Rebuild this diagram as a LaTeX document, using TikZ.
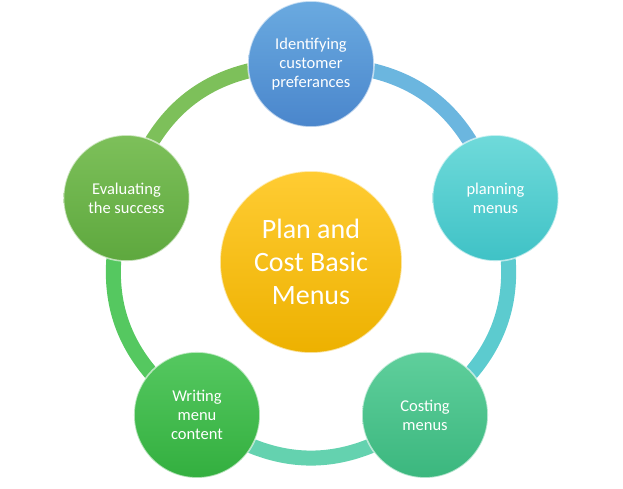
\documentclass[tikz,border=0pt]{standalone}
\usepackage{fontspec}
\setmainfont{Carlito}
\usetikzlibrary{backgrounds}
\definecolor{identtop}{HTML}{6AAAE0}
\definecolor{identbot}{HTML}{4A86CC}
\definecolor{plantop}{HTML}{6FDADA}
\definecolor{planbot}{HTML}{3FC2C6}
\definecolor{costtop}{HTML}{5FCF9C}
\definecolor{costbot}{HTML}{3BB77E}
\definecolor{writetop}{HTML}{55C860}
\definecolor{writebot}{HTML}{33AF3F}
\definecolor{evaltop}{HTML}{7DC05A}
\definecolor{evalbot}{HTML}{5EA83E}
\definecolor{coretop}{HTML}{FFCC33}
\definecolor{corebot}{HTML}{EDB100}

\begin{document}
\begin{tikzpicture}[x=1pt,y=1pt,
    stage/.style={circle,draw=white,draw opacity=.6,line width=1.6pt,minimum size=126pt,inner sep=0pt,
      align=center,text=white,font=\fontsize{16.5}{19}\selectfont},
    ring/.style={line width=15pt,bend left=36,looseness=1.1}]
  \useasboundingbox (-311,-230) rectangle (312,258);
  % steps round the ring
  \node[stage,top color=identtop,bottom color=identbot] (ident) at (90:194pt) {Identifying\\customer\\preferances};
  \node[stage,top color=plantop,bottom color=planbot] (plan) at (18:194pt) {planning\\menus};
  \node[stage,top color=costtop,bottom color=costbot] (cost) at (-54:194pt) {Costing\\menus};
  \node[stage,top color=writetop,bottom color=writebot] (write) at (-126:194pt) {Writing\\menu\\content};
  \node[stage,top color=evaltop,bottom color=evalbot] (eval) at (162:194pt) {Evaluating\\the success};
  % centre
  \node[stage,minimum size=182pt,top color=coretop,bottom color=corebot,
    font=\fontsize{28}{33}\selectfont] (core) at (0,-4) {Plan and\\Cost Basic\\Menus};
  \begin{pgfonlayer}{background}
    \draw[ring,color=identtop!75!plantop] (ident.center) to (plan.center);
    \draw[ring,color=planbot!85!white] (plan.center) to (cost.center);
    \draw[ring,color=costtop!70!plantop] (cost.center) to (write.center);
    \draw[ring,color=writetop] (write.center) to (eval.center);
    \draw[ring,color=evaltop] (eval.center) to (ident.center);
  \end{pgfonlayer}
\end{tikzpicture}
\end{document}
